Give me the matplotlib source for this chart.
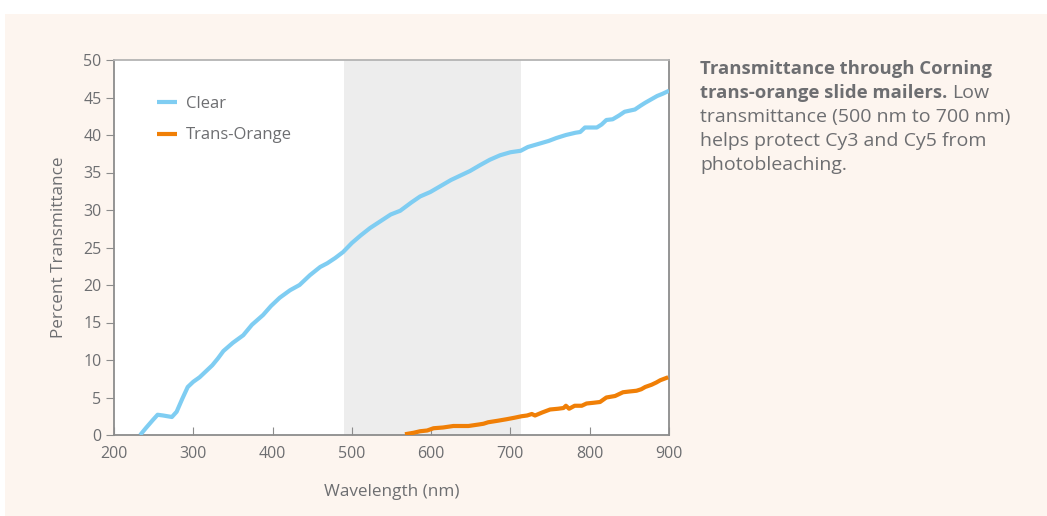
import numpy as np
import matplotlib.pyplot as plt
from matplotlib.patches import Rectangle

plt.rcParams['font.family'] = ['Open Sans', 'DejaVu Sans']

# transmittance curves, wavelength in nm vs percent
clear_nm = [233, 240, 249, 255, 262, 273, 279, 286, 293, 300, 308, 316, 324, 331, 338,
            350, 363, 374, 388, 398, 409, 422, 434, 447, 460, 469, 479, 489, 500, 511,
            523, 536, 549, 561, 575, 586, 599, 612, 625, 637, 649, 662, 674, 687, 700,
            713, 722, 735, 748, 758, 770, 782, 788, 794, 800, 809, 815, 821, 829, 837,
            844, 857, 864, 870, 880, 885, 892, 900]
clear_pct = [0.0, 0.9, 2.0, 2.7, 2.6, 2.4, 3.1, 4.8, 6.4, 7.1, 7.7, 8.5, 9.3, 10.2, 11.2,
             12.3, 13.3, 14.7, 16.0, 17.2, 18.3, 19.3, 20.0, 21.3, 22.4, 22.9, 23.6, 24.4, 25.6, 26.6,
             27.6, 28.5, 29.4, 29.9, 31.0, 31.8, 32.4, 33.2, 34.0, 34.6, 35.2, 36.0, 36.7, 37.3, 37.7,
             37.9, 38.4, 38.8, 39.2, 39.6, 40.0, 40.3, 40.4, 41.0, 41.0, 41.0, 41.4, 42.0, 42.1, 42.6,
             43.1, 43.4, 43.9, 44.3, 44.9, 45.2, 45.5, 45.9]

orange_nm = [567, 578, 586, 595, 603, 615, 628, 647, 660, 666, 672, 684, 695, 705, 714,
             721, 727, 731, 740, 750, 760, 767, 770, 774, 781, 790, 796, 805, 813, 821,
             832, 842, 850, 859, 865, 870, 878, 884, 889, 894, 899]
orange_pct = [0.1, 0.3, 0.5, 0.6, 0.9, 1.0, 1.2, 1.2, 1.4, 1.5, 1.7, 1.9, 2.1, 2.3, 2.5,
              2.6, 2.8, 2.6, 3.0, 3.4, 3.5, 3.6, 3.9, 3.5, 3.9, 3.9, 4.2, 4.3, 4.4, 5.0,
              5.2, 5.7, 5.8, 5.9, 6.1, 6.4, 6.7, 7.0, 7.3, 7.5, 7.7]

band_nm = (490, 713)

grey = '#6d6e71'
bg = '#fdf5ef'

fig = plt.figure(figsize=(10.47, 5.16), dpi=100, facecolor='white')
fig.patches.append(Rectangle((5 / 1047, 0), 1, 1 - 14 / 516, transform=fig.transFigure,
                             facecolor=bg, edgecolor='none', zorder=-10))

ax = fig.add_axes([114 / 1047, 81 / 516, 555 / 1047, 375 / 516])
ax.set_facecolor('white')
ax.axvspan(band_nm[0], band_nm[1], color='#ededed', lw=0, zorder=0)

ax.plot(clear_nm, clear_pct, color='#7fcdf2', lw=3.0, label='Clear',
        solid_joinstyle='round', solid_capstyle='butt', zorder=3)
ax.plot(orange_nm, orange_pct, color='#f07f06', lw=3.0, label='Trans-Orange',
        solid_joinstyle='round', solid_capstyle='butt', zorder=3)

ax.set_xlim(200, 900)
ax.set_ylim(0, 50)
ax.set_xticks(np.arange(200, 901, 100))
ax.set_yticks(np.arange(0, 51, 5))
ax.tick_params(axis='x', direction='in', length=6, color='#8c8c8c', labelcolor=grey,
               labelsize=11.5, pad=8)
ax.tick_params(axis='y', direction='out', length=6, color='#8c8c8c', labelcolor=grey,
               labelsize=11.5, pad=3)

for side in ['left', 'bottom', 'right']:
    ax.spines[side].set_color('#8c8c8c')
ax.spines['top'].set_color('#b4b4b4')
for s in ax.spines.values():
    s.set_linewidth(1.3)

ax.set_xlabel('Wavelength (nm)', color=grey, fontsize=12.3, labelpad=16)
ax.set_ylabel('Percent Transmittance', color=grey, fontsize=12.3, labelpad=12)

leg = ax.legend(loc='upper left', bbox_to_anchor=(0.05, 0.945), frameon=False,
                fontsize=12, handlelength=1.2, handletextpad=0.55, labelspacing=0.95)
for t in leg.get_texts():
    t.set_color(grey)

# caption to the right of the plot
fs_bold = 13.3
fs = 14.0
x0 = 700 / 1047
line_h = 24 / 516
y0 = 1 - 74 / 516
fig.text(x0, y0, 'Transmittance through Corning', color=grey, fontsize=fs_bold,
         fontweight='bold', va='baseline', ha='left')
b = fig.text(x0, y0 - line_h, 'trans-orange slide mailers.', color=grey, fontsize=fs_bold,
             fontweight='bold', va='baseline', ha='left')
fig.canvas.draw()
bb = b.get_window_extent().transformed(fig.transFigure.inverted())
fig.text(bb.x1 + 5 / 1047, y0 - line_h, 'Low', color=grey, fontsize=fs,
         va='baseline', ha='left')
for i, line in enumerate(['transmittance (500 nm to 700 nm)',
                          'helps protect Cy3 and Cy5 from',
                          'photobleaching.']):
    fig.text(x0, y0 - (i + 2) * line_h, line, color=grey, fontsize=fs,
             va='baseline', ha='left')

fig.savefig('out.png', dpi=100, facecolor=fig.get_facecolor())
